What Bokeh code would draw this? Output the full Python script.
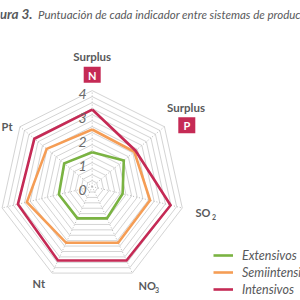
import numpy as np
from bokeh.plotting import figure
from bokeh.models import Legend, LegendItem, Range1d
from bokeh.core.properties import value
from bokeh.embed import file_html
from bokeh.resources import INLINE

# ---------------- data ----------------
indicators = ["Surplus N", "Surplus P", "SO2", "NO3", "Nt", "", "Pt"]
extensivos = [1.43, 1.75, 1.35, 1.47, 1.47, 1.48, 1.55]
semiintensivos = [2.38, 2.33, 2.57, 2.60, 2.60, 2.90, 2.52]
intensivos = [3.21, 2.40, 3.48, 3.42, 3.42, 3.30, 3.20]
series_names = ["Extensivos", "Semiintensivos", "Intensivos"]
series_values = [extensivos, semiintensivos, intensivos]
tick_values = [0, 1, 2, 3, 4]
ring_step = 0.25
r_max = 4

# ---------------- style ----------------
colors = ["#7ab342", "#f59d55", "#c52a55"]
ring_color = "#d4d4d4"
spoke_color = "#b8b8b8"
label_color = "#58595b"
tick_color = "#6a6a6a"
narrow = "Lato"
bold_font = "Lato"

# layout helpers (pixel anchor -> data coordinates)
CX, CY, SX, SY = 91.7, 186.1, 23.1, 24.0
W = H = 300


def px(x, y):
    return (x - CX) / SX, (CY - y) / SY


n = len(indicators)
angles = np.pi / 2 - 2 * np.pi * np.arange(n) / n


def polar(vals):
    v = np.asarray(vals, dtype=float)
    x = v * np.cos(angles)
    y = v * np.sin(angles)
    return list(np.append(x, x[0])), list(np.append(y, y[0]))


p = figure(width=W, height=H, output_backend="svg", toolbar_location=None,
           x_range=Range1d(-CX / SX, (W - CX) / SX),
           y_range=Range1d(-(H - CY) / SY, CY / SY),
           x_axis_type=None, y_axis_type=None, min_border=0,
           border_fill_color="white", background_fill_color="white")
p.outline_line_color = None
p.grid.visible = False

# rings
ring_levels = np.arange(ring_step, r_max + 1e-9, ring_step)
rxs, rys = [], []
for r in ring_levels:
    xs, ys = polar([r] * n)
    rxs.append(xs)
    rys.append(ys)
p.multi_line(rxs, rys, line_color=ring_color, line_width=1)

# spokes
p.segment(x0=[0] * n, y0=[0] * n,
          x1=list(r_max * np.cos(angles)), y1=list(r_max * np.sin(angles)),
          line_color=spoke_color, line_width=1, line_dash="1 2")

# series
renderers = []
for name, vals, c in zip(series_names, series_values, colors):
    xs, ys = polar(vals)
    r = p.line(xs, ys, line_color=c, line_width=2.6, line_join="miter")
    renderers.append(r)

# tick labels
tx, _ = px(82, 0)
p.text(x=[tx] * len(tick_values), y=[v - 3 / SY for v in tick_values],
       text=[str(v) for v in tick_values], text_align="center",
       text_baseline="middle", text_font=value(narrow), text_font_style="italic",
       text_font_size="14px", text_color=tick_color)


# axis labels
def label(x, y, t, align="center", size="11px", color=label_color, baseline="middle"):
    dx, dy = px(x, y)
    p.text(x=[dx], y=[dy], text=[t], text_align=align, text_baseline=baseline,
           text_font=value(bold_font), text_font_style="bold",
           text_font_size=size, text_color=color)


label(91.7, 55.5, "Surplus", size="11.5px")
label(185.5, 106.5, "Surplus", size="11.5px")
# red boxes
bx = [px(91.7, 74.2)[0], px(186.3, 124.7)[0]]
by = [px(91.7, 74.2)[1], px(186.3, 124.7)[1]]
p.rect(x=bx, y=by, width=17, height=16, width_units="screen", height_units="screen",
       fill_color="#c52a55", line_color=None)
label(91.7, 74.5, "N", color="white")
label(186.3, 125, "P", color="white")

label(195, 212, "SO", align="left")
label(211.5, 216, "2", align="left", size="7px")
label(138, 285, "NO", align="left")
label(154.5, 289, "3", align="left", size="7px")
label(38.3, 283, "Nt")
label(12, 126, "Pt", align="right")

# title
tx1, ty1 = px(32, 13.5)
p.text(x=[tx1], y=[ty1], text=["Figura 3."], text_align="right", text_baseline="middle",
       text_font=value(narrow), text_font_style="bold italic", text_font_size="13.5px",
       text_color=label_color)
tx2, ty2 = px(37.5, 13.5)
p.text(x=[tx2], y=[ty2], text=["Puntuación de cada indicador entre sistemas de producción"],
       text_align="left", text_baseline="middle",
       text_font=value(narrow), text_font_style="italic", text_font_size="11.5px",
       text_color=label_color)

# legend
legend = Legend(items=[LegendItem(label=nm, renderers=[r]) for nm, r in zip(series_names, renderers)],
                location=(213, 3), orientation="vertical",
                glyph_width=20, glyph_height=16, label_height=16, spacing=1,
                label_standoff=9, padding=0, margin=0,
                border_line_color=None, background_fill_alpha=0,
                label_text_font=narrow, label_text_font_style="italic",
                label_text_font_size="12.5px", label_text_color=label_color)
p.add_layout(legend, "center")

open("out.html", "w").write(file_html(p, INLINE))
